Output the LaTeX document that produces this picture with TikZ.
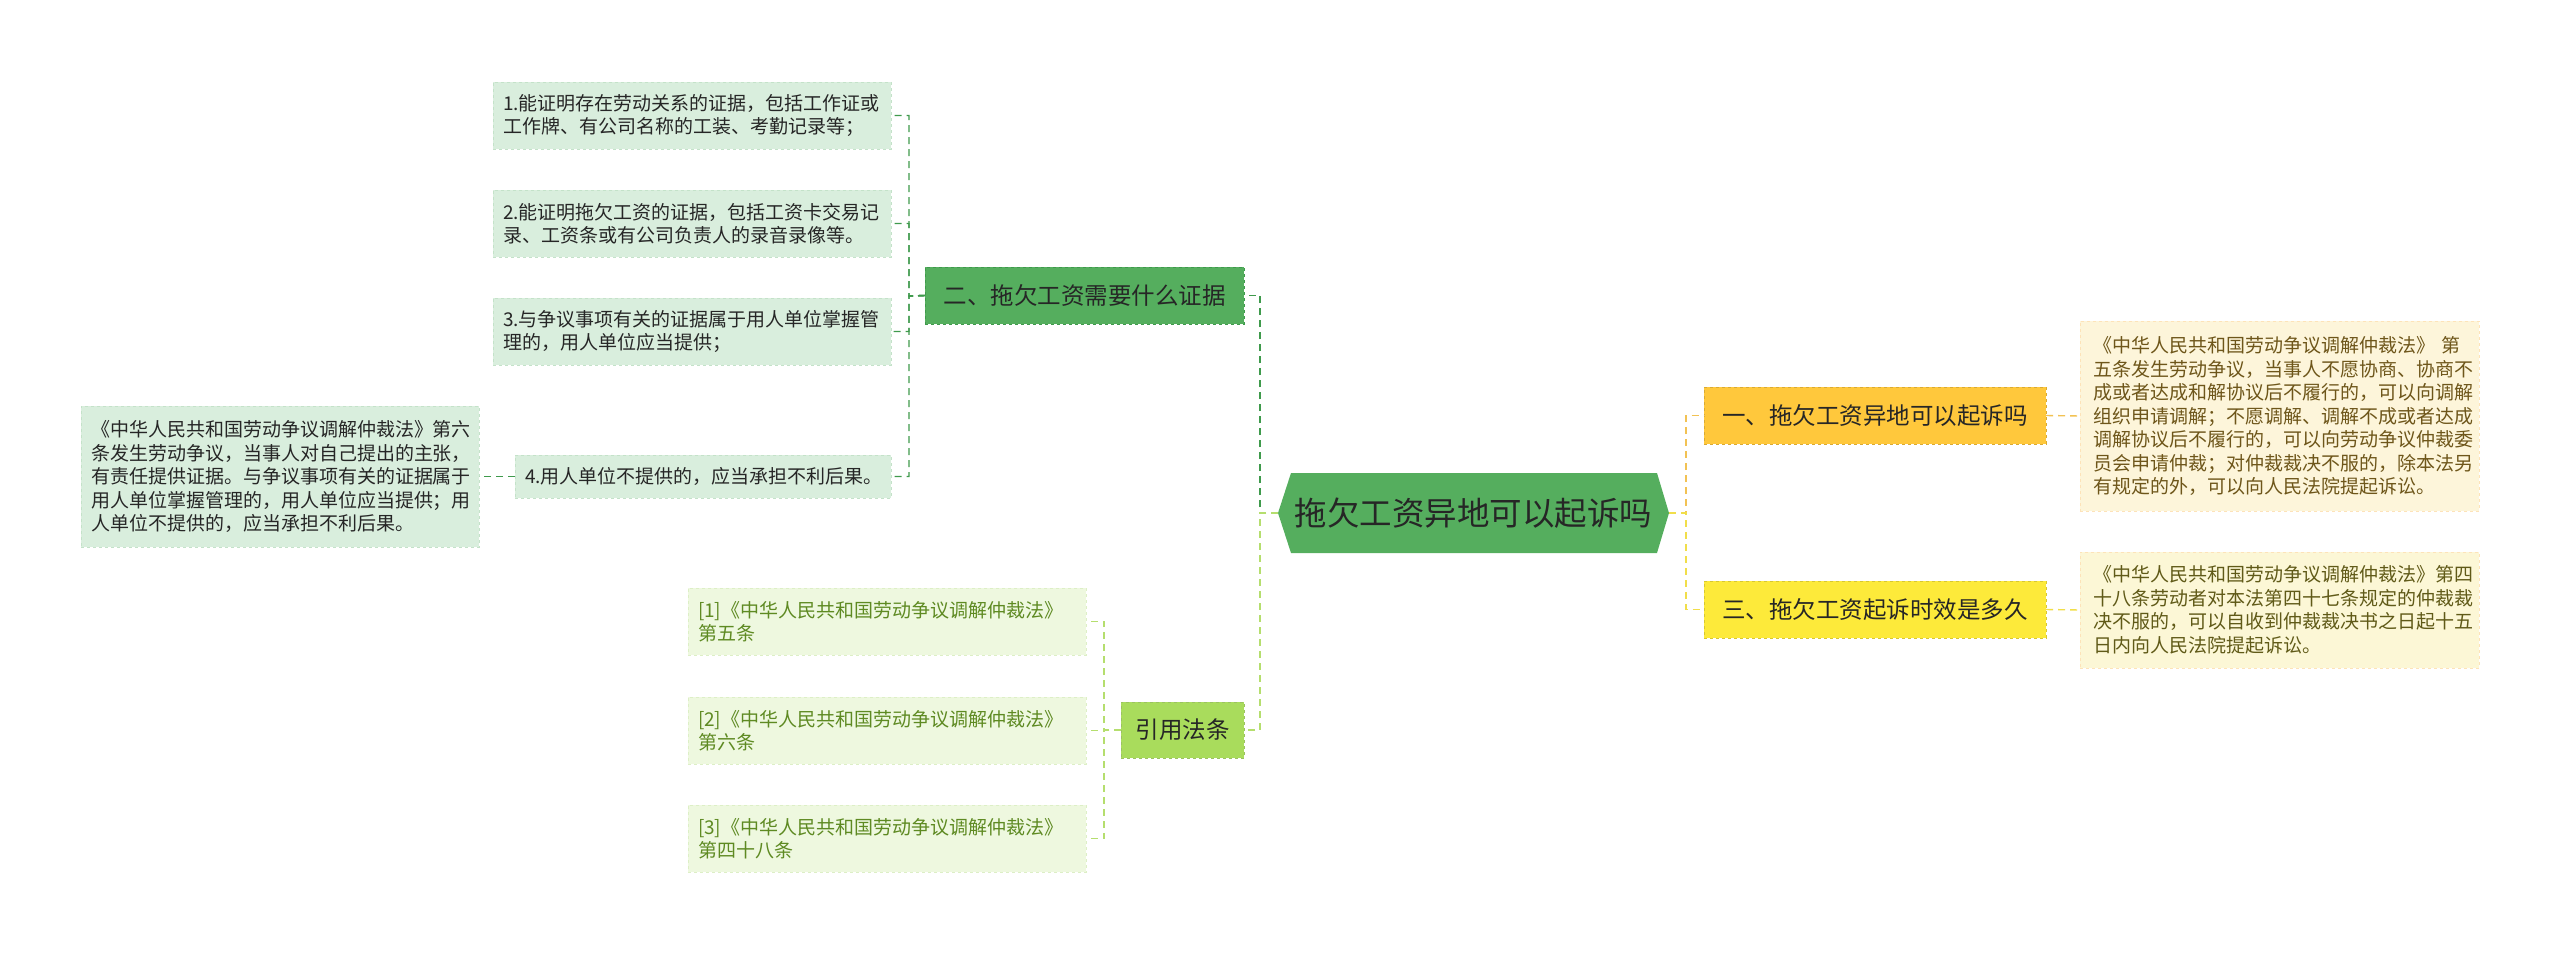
\documentclass[tikz,border=0pt]{standalone}
\usepackage{fontspec}
\setmainfont{Noto Sans CJK SC}
\usetikzlibrary{calc,backgrounds}
\definecolor{dkg}{HTML}{55AE5E}
\definecolor{dkgline}{HTML}{3F9A4C}
\definecolor{ebox}{HTML}{D9EEDD}
\definecolor{eboxb}{HTML}{C4E2C9}
\definecolor{lg}{HTML}{A9DC5C}
\definecolor{lgline}{HTML}{B5DE6E}
\definecolor{rbox}{HTML}{EEF8DF}
\definecolor{rboxb}{HTML}{DDEFC6}
\definecolor{rtext}{HTML}{5E8A22}
\definecolor{og}{HTML}{FFC83C}
\definecolor{ogline}{HTML}{F2C253}
\definecolor{yl}{HTML}{FDEA3A}
\definecolor{ylline}{HTML}{F1DE4A}
\definecolor{dbox}{HTML}{FDF5DA}
\definecolor{dbox2}{HTML}{FCF7D6}
\definecolor{dtext}{HTML}{6E561A}
\definecolor{dtext2}{HTML}{605A18}
\begin{document}
\begin{tikzpicture}[x=1pt,y=-1pt,
  every node/.style={inner sep=0pt, outer sep=0pt},
  base/.style={anchor=north west, align=left, font=\fontsize{19}{23.5}\selectfont, inner xsep=10pt},
  evbox/.style={base, fill=ebox, draw=eboxb, dashed, text=black!85},
  refbox/.style={base, fill=rbox, draw=rboxb, dashed, text=rtext},
  detbox/.style={base, fill=dbox, draw=dbox!85!orange, dashed, text=dtext},
  topic/.style={anchor=north west, align=center, font=\fontsize{23.5}{28}\selectfont, text=black!85},
  conn/.style={line width=1.8pt, dash pattern=on 7pt off 5pt},
]
\useasboundingbox (0,0) rectangle (2560,954);

% root
\node[font=\fontsize{32.5}{38}\selectfont, text=black!85, minimum width=391pt, minimum height=80pt, anchor=north west] (root) at (1278,473) {拖欠工资异地可以起诉吗};
\begin{scope}[on background layer]
\fill[dkg] (root.west) -- ($(root.north west)+(13,0)$) -- ($(root.north east)+(-12,0)$) -- (root.east) -- ($(root.south east)+(-12,0)$) -- ($(root.south west)+(13,0)$) -- cycle;
\end{scope}

% left topics
\node[topic, fill=dkg, draw=dkgline, dashed, minimum width=319pt, minimum height=57pt] (t2) at (925,267) {二、拖欠工资需要什么证据};
\node[topic, fill=lg, draw=lg!85!black!90, dashed, minimum width=123pt, minimum height=56pt] (tref) at (1121,702) {引用法条};

% right topics
\node[topic, fill=og, draw=og!85!black, dashed, minimum width=342pt, minimum height=57pt] (t1) at (1704,387) {一、拖欠工资异地可以起诉吗};
\node[topic, fill=yl, draw=yl!85!black, dashed, minimum width=342pt, minimum height=57pt] (t3) at (1704,581) {三、拖欠工资起诉时效是多久};

% evidence boxes
\node[evbox, minimum width=398pt, minimum height=67pt, text width=378pt] (e1) at (493,82) {1.能证明存在劳动关系的证据，包括工作证或\\工作牌、有公司名称的工装、考勤记录等；};
\node[evbox, minimum width=398pt, minimum height=67pt, text width=378pt] (e2) at (493,190) {2.能证明拖欠工资的证据，包括工资卡交易记\\录、工资条或有公司负责人的录音录像等。};
\node[evbox, minimum width=398pt, minimum height=67pt, text width=378pt] (e3) at (493,298) {3.与争议事项有关的证据属于用人单位掌握管\\理的，用人单位应当提供；};
\node[evbox, minimum width=376pt, minimum height=43pt, text width=356pt] (e4) at (515,455) {4.用人单位不提供的，应当承担不利后果。};
\node[evbox, minimum width=398pt, minimum height=141pt, text width=378pt] (eL) at (81,406) {《中华人民共和国劳动争议调解仲裁法》第六\\条发生劳动争议，当事人对自己提出的主张，\\有责任提供证据。与争议事项有关的证据属于\\用人单位掌握管理的，用人单位应当提供；用\\人单位不提供的，应当承担不利后果。};

% reference boxes
\node[refbox, minimum width=398pt, minimum height=67pt, text width=378pt] (r1) at (688,588) {[1]《中华人民共和国劳动争议调解仲裁法》\\第五条};
\node[refbox, minimum width=398pt, minimum height=67pt, text width=378pt] (r2) at (688,697) {[2]《中华人民共和国劳动争议调解仲裁法》\\第六条};
\node[refbox, minimum width=398pt, minimum height=67pt, text width=378pt] (r3) at (688,805) {[3]《中华人民共和国劳动争议调解仲裁法》\\第四十八条};

% detail boxes
\node[detbox, minimum width=399pt, minimum height=190pt, inner xsep=13pt, text width=373pt] (d1) at (2080,321) {《中华人民共和国劳动争议调解仲裁法》 第\\五条发生劳动争议，当事人不愿协商、协商不\\成或者达成和解协议后不履行的，可以向调解\\组织申请调解；不愿调解、调解不成或者达成\\调解协议后不履行的，可以向劳动争议仲裁委\\员会申请仲裁；对仲裁裁决不服的，除本法另\\有规定的外，可以向人民法院提起诉讼。};
\node[detbox, fill=dbox2, text=dtext2, minimum width=399pt, minimum height=116pt, inner xsep=13pt, text width=373pt] (d3) at (2080,552) {《中华人民共和国劳动争议调解仲裁法》第四\\十八条劳动者对本法第四十七条规定的仲裁裁\\决不服的，可以自收到仲裁裁决书之日起十五\\日内向人民法院提起诉讼。};

% trunk connectors
\coordinate (lt) at (1260,513);
\coordinate (rt) at (1686,513);
\draw[conn, dkgline] (root.west) -- (lt) |- (t2.east);
\draw[conn, lgline] (root.west) -- (lt) |- (tref.east);
\draw[conn, ogline] (root.east) -- (rt) |- (t1.west);
\draw[conn, ylline] (root.east) -- (rt) |- (t3.west);

% evidence bracket
\coordinate (eb) at (909,296);
\foreach \n in {e1,e2,e3,e4} \draw[conn, dkgline, line width=1.4pt] (t2.west) -- (eb) |- (\n.east);
\draw[conn, dkgline, line width=1.4pt] (e4.west) -- (eL.east);

% reference bracket
\coordinate (rb) at (1104,730);
\foreach \n in {r1,r2,r3} \draw[conn, lgline, line width=1.4pt] (tref.west) -- (rb) |- (\n.east);

% details
\draw[conn, ogline, line width=1.4pt] (t1.east) -- (d1.west);
\draw[conn, ylline, line width=1.4pt] (t3.east) -- (d3.west);
\end{tikzpicture}
\end{document}
